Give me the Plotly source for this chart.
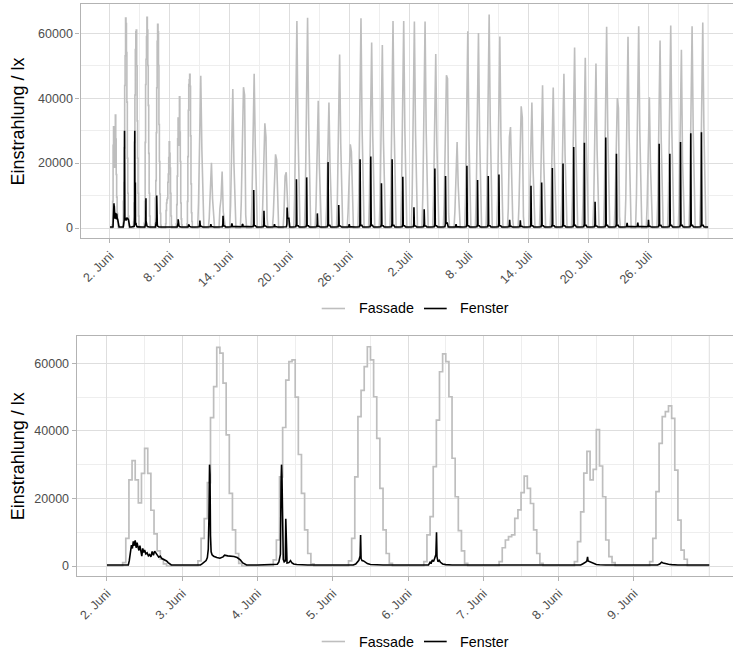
import plotly.graph_objects as go

# ------------------------------------------------------------------
# Daten. Zeitachse: Tage ab 2. Juni 00:00
# ------------------------------------------------------------------
# Fassade, stündliche Werte (Stunde 4 ... 19) für 2.–9. Juni
FASSADE_STUNDE_START = 4
FASSADE_02_JUNI = [0, 1000, 8200, 25500, 31200, 25500, 18700, 27400, 34800, 27400, 16500, 9500, 4500, 2000, 600, 0]
FASSADE_03_JUNI = [0, 1500, 8200, 14000, 24700, 43900, 53100, 64700, 63000, 54100, 38800, 21500, 10700, 3700, 800, 0]
FASSADE_04_JUNI = [0, 1800, 7700, 26400, 41000, 55000, 60500, 61000, 50000, 33000, 21500, 10700, 3700, 600, 0, 0]
FASSADE_05_JUNI = [0, 1500, 8200, 26400, 44200, 52000, 59000, 64900, 61000, 50100, 37800, 23000, 10700, 3700, 800, 0]
FASSADE_06_JUNI = [0, 1300, 9200, 14600, 29400, 43200, 57500, 62800, 60500, 50100, 31900, 20500, 10500, 4500, 800, 0]
FASSADE_07_JUNI = [0, 1300, 5400, 7700, 8700, 9200, 14100, 16600, 21700, 26600, 23000, 18500, 10700, 3700, 800, 0]
FASSADE_08_JUNI = [0, 1300, 7200, 16000, 27500, 33900, 25500, 28600, 40400, 29600, 20500, 7700, 2800, 1000, 0, 0]
FASSADE_09_JUNI = [0, 1300, 8200, 22000, 36300, 44200, 45700, 47400, 43700, 28400, 13600, 4700, 2000, 0, 0, 0]

# Fenster, (Stunde, Wert) für 2.–9. Juni
FENSTER_02_JUNI = [(0, 300), (6.8, 300), (7.1, 1500), (7.4, 3500), (7.8, 6200), (8.1, 5200), (8.4, 7300),
                   (8.7, 6000), (9.0, 7600), (9.3, 5400), (9.6, 6900), (9.9, 5600), (10.2, 4600), (10.5, 6000),
                   (10.8, 4800), (11.1, 2900), (11.4, 5200), (11.7, 4000), (12.0, 4700), (12.4, 3600),
                   (12.8, 3900), (13.2, 3000), (13.6, 3400), (14.0, 2700), (14.4, 4300), (14.8, 3200),
                   (15.2, 4400), (15.6, 3600), (16.0, 3300), (16.5, 2600), (17.0, 2900), (17.5, 2200),
                   (18.0, 2000), (18.5, 1900), (19.0, 1500), (19.5, 1000), (20.0, 500), (20.5, 300)]
FENSTER_03_JUNI = [(0, 300), (5.8, 300), (6.3, 600), (7.0, 1000), (7.6, 1600), (8.0, 2500), (8.3, 5000),
                   (8.5, 14000), (8.7, 30000), (8.85, 27000), (9.0, 9000), (9.2, 4200), (9.5, 3300),
                   (10.0, 2900), (11.0, 2500), (12.0, 2300), (13.0, 2700), (13.5, 3200), (14.5, 3000),
                   (15.5, 3000), (16.5, 2800), (17.5, 2500), (18.5, 1800), (19.3, 900), (20.0, 400), (20.5, 300)]
FENSTER_04_JUNI = [(0, 300), (5.5, 300), (6.3, 500), (6.8, 1200), (7.3, 3500), (7.5, 25000), (7.65, 30000),
                   (7.8, 26000), (7.95, 12000), (8.2, 2000), (8.5, 1200), (8.85, 1500), (9.0, 14000),
                   (9.15, 2500), (9.4, 900), (10.0, 1000), (10.5, 1600), (10.9, 1000), (11.5, 600),
                   (12.5, 450), (14.0, 350), (16.0, 300)]
FENSTER_05_JUNI = [(0, 300), (6.5, 300), (7.3, 600), (7.8, 1300), (8.3, 1700), (8.7, 3000), (8.85, 9200),
                   (9.0, 2200), (9.3, 1600), (9.8, 1500), (10.3, 1200), (11.0, 700), (12.0, 450), (14.0, 350),
                   (16.0, 300)]
FENSTER_06_JUNI = [(0, 300), (6.5, 300), (7.0, 1100), (7.3, 700), (7.7, 1800), (8.1, 1300), (8.5, 2400),
                   (8.85, 3400), (9.05, 10000), (9.2, 2800), (9.5, 1300), (9.9, 1700), (10.3, 1100),
                   (11.0, 600), (12.0, 400), (14.0, 300)]
FENSTER_07_JUNI = [(0, 300), (12.0, 350), (23.9, 300)]
FENSTER_08_JUNI = [(0, 300), (7.0, 300), (7.6, 600), (8.2, 900), (8.7, 1200), (9.0, 1600), (9.2, 2700),
                   (9.35, 1500), (9.8, 1300), (10.3, 1000), (11.0, 700), (12.0, 450), (13.0, 350), (15.0, 300)]
FENSTER_09_JUNI = [(0, 300), (7.5, 300), (8.2, 600), (8.8, 1100), (9.3, 900), (10.0, 700), (11.0, 500),
                   (12.0, 400), (14.0, 300)]

# Übersicht 10. Juni – 27. Juli (Tag 8 ... 55): Fassade zu festen Uhrzeiten
FASSADE_07UHR = [8000, 3000, 6000, 7000, 8000, 8000, 6000, 4000, 5000, 10000, 10000, 7000, 7000, 9000, 5000, 10000,
                 9000, 9000, 10000, 10000, 10000, 10000, 9000, 8000, 5000, 10000, 10000, 10000, 9000, 6000, 7000, 7000,
                 8000, 7000, 8000, 9000, 9000, 8000, 10000, 7000, 9000, 10000, 7000, 9000, 10000, 9000, 10000, 10000]
FASSADE_0930 = [28000, 12000, 9000, 26000, 30000, 29000, 21000, 15000, 16000, 39000, 40000, 24000, 24000, 33000,
                17000, 40000, 36000, 35000, 39000, 39000, 39000, 39000, 33000, 30000, 17000, 37000, 37000, 40000,
                36000, 28000, 24000, 24000, 34800, 27000, 29000, 34000, 32000, 31000, 38000, 25000, 36000, 38000,
                25000, 35000, 38000, 34000, 38000, 39000]
FASSADE_12UHR = [46900, 20100, 17400, 42800, 43400, 47500, 32300, 22700, 17200, 63800, 64800, 39200, 38700, 53500,
                 25800, 64600, 57200, 56400, 63800, 63800, 63600, 63600, 53600, 47100, 26500, 60600, 60100, 65800,
                 59000, 31100, 37500, 38700, 44000, 43300, 47500, 55600, 52500, 50700, 62000, 40000, 58900, 62200,
                 40300, 57800, 62400, 54900, 62200, 63300]
FASSADE_1430 = [24000, 9000, 5000, 20000, 41000, 25000, 28000, 21000, 9000, 30000, 32000, 19000, 19000, 26000,
                23500, 31000, 28000, 27000, 31000, 31000, 30000, 30000, 26000, 46000, 13000, 29000, 29000, 32000,
                28000, 15000, 34000, 19000, 21000, 21000, 23000, 27000, 25000, 24000, 30000, 37000, 28000, 30000,
                19000, 28000, 30000, 21000, 30000, 31000]
FASSADE_17UHR = [3500, 1500, 2500, 3000, 4000, 3500, 3000, 3000, 2000, 4000, 4000, 3000, 3000, 3500, 3000, 4000,
                 4000, 4000, 4000, 4000, 4000, 4000, 3500, 4500, 2500, 4000, 4000, 4000, 4000, 2500, 3500, 3000,
                 3500, 3000, 3500, 3500, 3500, 3500, 4000, 3500, 4000, 4000, 3000, 4000, 4000, 3000, 4000, 4000]
# Fenster: Spitzenwert, Uhrzeit der Spitze, Nachlauf
FENSTER_SPITZE = [2300, 800, 3800, 1400, 1100, 11700, 5300, 900, 6300, 15000, 15600, 4500, 20300, 7100, 400, 21200,
                  22000, 13800, 21200, 15800, 6400, 5800, 18300, 16000, 500, 19200, 14800, 16000, 16500, 2500, 2400,
                  13000, 14000, 18500, 19900, 25000, 26300, 8100, 27900, 22900, 1600, 1700, 2500, 26000, 22900,
                  26500, 29200, 29500]
FENSTER_SPITZE_UHR = [10, 11, 14, 10, 10, 11, 10, 10, 14, 11, 10, 10, 10, 10, 10, 10,
                      10, 10, 10, 10, 11, 10, 10, 10, 10, 10, 10, 10, 10, 10, 10,
                      10, 10, 10, 10, 10, 10, 10, 10, 10, 10, 10, 10, 10, 10, 10, 9, 9]
FENSTER_NACHLAUF = [500, 400, 600, 500, 500, 700, 600, 400, 3000, 700, 700, 500, 800, 600, 350, 800,
                    800, 700, 800, 700, 600, 600, 700, 1500, 350, 700, 700, 700, 700, 500, 500,
                    700, 700, 700, 700, 800, 800, 600, 800, 800, 500, 500, 500, 800, 800, 800, 800, 800]
FENSTER_NACHT = 300

LABELS_OBEN = ["2. Juni", "8. Juni", "14. Juni", "20. Juni", "26. Juni",
               "2.Juli", "8. Juli", "14. Juli", "20. Juli", "26. Juli"]
LABELS_UNTEN = ["2. Juni", "3. Juni", "4. Juni", "5. Juni", "6. Juni", "7. Juni", "8. Juni", "9. Juni"]
Y_TICKS = [0, 20000, 40000, 60000]
Y_MINOR = [10000, 30000, 50000]

FASSADE_STUNDLICH = [FASSADE_02_JUNI, FASSADE_03_JUNI, FASSADE_04_JUNI, FASSADE_05_JUNI,
                     FASSADE_06_JUNI, FASSADE_07_JUNI, FASSADE_08_JUNI, FASSADE_09_JUNI]
FENSTER_DETAIL = [FENSTER_02_JUNI, FENSTER_03_JUNI, FENSTER_04_JUNI, FENSTER_05_JUNI,
                  FENSTER_06_JUNI, FENSTER_07_JUNI, FENSTER_08_JUNI, FENSTER_09_JUNI]

# ------------------------------------------------------------------
N_DETAIL = len(FASSADE_STUNDLICH)
N_GESAMT = N_DETAIL + len(FASSADE_12UHR)


def stundenwert(werte, h):
    i = h - FASSADE_STUNDE_START
    return werte[i] if 0 <= i < len(werte) else 0


# untere Grafik: Stufen
fu_x, fu_y = [], []
for d, werte in enumerate(FASSADE_STUNDLICH):
    for h in range(24):
        fu_x.append(d + h / 24)
        fu_y.append(stundenwert(werte, h))
fu_x.append(N_DETAIL)
fu_y.append(0)

fe_x, fe_y = [], []
for d, punkte in enumerate(FENSTER_DETAIL):
    for h, v in punkte:
        fe_x.append(d + h / 24)
        fe_y.append(v)
fe_x.append(N_DETAIL)
fe_y.append(FENSTER_NACHT)

# obere Grafik
fo_x, fo_y = [], []
for d, werte in enumerate(FASSADE_STUNDLICH):
    for h in range(24):
        v = stundenwert(werte, h)
        fo_x += [d + h / 24, d + (h + 1) / 24]
        fo_y += [v, v]
for i in range(len(FASSADE_12UHR)):
    d = N_DETAIL + i
    for h, v in [(0, 0), (5, 0), (7, FASSADE_07UHR[i]), (9.5, FASSADE_0930[i]), (12, FASSADE_12UHR[i]),
                 (14.5, FASSADE_1430[i]), (17, FASSADE_17UHR[i]), (19, 0)]:
        fo_x.append(d + h / 24)
        fo_y.append(v)
fo_x.append(N_GESAMT)
fo_y.append(0)

wo_x, wo_y = list(fe_x[:-1]), list(fe_y[:-1])
for i in range(len(FENSTER_SPITZE)):
    d = N_DETAIL + i
    u = FENSTER_SPITZE_UHR[i]
    n = FENSTER_NACHLAUF[i]
    for h, v in [(0, FENSTER_NACHT), (u - 1.5, 400), (u - 0.4, 1200), (u, FENSTER_SPITZE[i]),
                 (u + 0.4, 1200), (u + 1, n), (u + 4, n), (u + 6, FENSTER_NACHT)]:
        wo_x.append(d + h / 24)
        wo_y.append(v)
wo_x.append(N_GESAMT)
wo_y.append(FENSTER_NACHT)

# ------------------------------------------------------------------
GRAU = "#BEBEBE"
SCHWARZ = "#000000"
GRID = "#DEDEDE"
GRID_MINOR = "#EEEEEE"
RAHMEN = "#B3B3B3"
TEXT = "#4D4D4D"
FONT = "Liberation Sans, Arial, sans-serif"
W, H = 733, 651

fig = go.Figure()
fig.add_trace(go.Scatter(x=fo_x, y=fo_y, mode="lines", line=dict(color=GRAU, width=1.6),
                         xaxis="x", yaxis="y", name="Fassade", showlegend=False, hoverinfo="skip"))
fig.add_trace(go.Scatter(x=wo_x, y=wo_y, mode="lines", line=dict(color=SCHWARZ, width=1.6),
                         xaxis="x", yaxis="y", name="Fenster", showlegend=False, hoverinfo="skip"))
fig.add_trace(go.Scatter(x=fu_x, y=fu_y, mode="lines", line=dict(color=GRAU, width=1.7, shape="hv"),
                         xaxis="x2", yaxis="y2", name="Fassade", showlegend=False, hoverinfo="skip"))
fig.add_trace(go.Scatter(x=fe_x, y=fe_y, mode="lines", line=dict(color=SCHWARZ, width=1.6),
                         xaxis="x2", yaxis="y2", name="Fenster", showlegend=False, hoverinfo="skip"))

n_breaks = len(LABELS_OBEN)
tv_oben = [N_GESAMT * k / n_breaks for k in range(n_breaks)]
minor_oben = [N_GESAMT * (k + 0.5) / n_breaks for k in range(n_breaks)]
tv_unten = list(range(len(LABELS_UNTEN)))
minor_unten = [k + 0.5 for k in range(len(LABELS_UNTEN))]

achse_x = dict(showline=True, linecolor=RAHMEN, linewidth=1.3, mirror=True, zeroline=False,
               showgrid=True, gridcolor=GRID, gridwidth=1, ticks="outside", ticklen=4, tickcolor=RAHMEN,
               tickwidth=1, tickangle=-45, tickfont=dict(family=FONT, size=12.5, color=TEXT))
achse_y = dict(showline=True, linecolor=RAHMEN, linewidth=1.3, mirror=False, zeroline=False,
               showgrid=True, gridcolor=GRID, gridwidth=1, ticks="outside", ticklen=4, tickcolor=RAHMEN,
               tickwidth=1, tickfont=dict(family=FONT, size=12.5, color=TEXT),
               tickvals=Y_TICKS, ticktext=[str(v) for v in Y_TICKS],
               minor=dict(tickvals=Y_MINOR, showgrid=True, gridcolor=GRID_MINOR, gridwidth=1, ticks=""))

fig.update_layout(
    width=W, height=H, margin=dict(l=0, r=0, t=0, b=0),
    paper_bgcolor="white", plot_bgcolor="white", showlegend=False,
    font=dict(family=FONT),
    xaxis=dict(achse_x, domain=[80.5 / W, 1], range=[-2.76, 58.33], anchor="y",
               tickvals=tv_oben, ticktext=LABELS_OBEN,
               minor=dict(tickvals=minor_oben, showgrid=True, gridcolor=GRID_MINOR, gridwidth=1, ticks="")),
    yaxis=dict(achse_y, domain=[1 - 238.3 / H, 1 - 4.3 / H], range=[-3174, 68937], anchor="x"),
    xaxis2=dict(achse_x, domain=[76.7 / W, 1], range=[-0.402, 8.315], anchor="y2",
                tickvals=tv_unten, ticktext=LABELS_UNTEN,
                minor=dict(tickvals=minor_unten, showgrid=True, gridcolor=GRID_MINOR, gridwidth=1, ticks="")),
    yaxis2=dict(achse_y, domain=[1 - 576 / H, 1 - 336 / H], range=[-2960, 68078], anchor="x2"),
)

# letzte (unbeschriftete) Hauptlinie
fig.add_shape(type="line", xref="x", yref="y domain", x0=N_GESAMT, x1=N_GESAMT, y0=0, y1=1,
              line=dict(color=GRID, width=1), layer="below")
fig.add_shape(type="line", xref="x2", yref="y2 domain", x0=N_DETAIL, x1=N_DETAIL, y0=0, y1=1,
              line=dict(color=GRID, width=1), layer="below")

# Achsentitel
for yc in (121.3, 456.0):
    fig.add_annotation(text="Einstrahlung / lx", xref="paper", yref="paper", x=18.3 / W, y=1 - yc / H,
                       xanchor="center", yanchor="middle", textangle=-90, showarrow=False,
                       font=dict(family=FONT, size=18, color="black"))

# Legenden
for ly in (308.5, 641.5):
    for (x0, x1, tx, farbe, name) in [(321.7, 345.0, 356.7, GRAU, "Fassade"),
                                      (424.0, 446.7, 458.3, SCHWARZ, "Fenster")]:
        fig.add_shape(type="line", xref="paper", yref="paper", x0=x0 / W, x1=x1 / W,
                      y0=1 - ly / H, y1=1 - ly / H, line=dict(color=farbe, width=1.6))
        fig.add_annotation(text=name, xref="paper", yref="paper", x=tx / W, y=1 - ly / H,
                           xanchor="left", yanchor="middle", showarrow=False,
                           font=dict(family=FONT, size=14.3, color="black"))

fig.write_html("out.html", config={"displayModeBar": False},
               post_script="document.body.style.margin='0';document.body.style.overflow='hidden';")
